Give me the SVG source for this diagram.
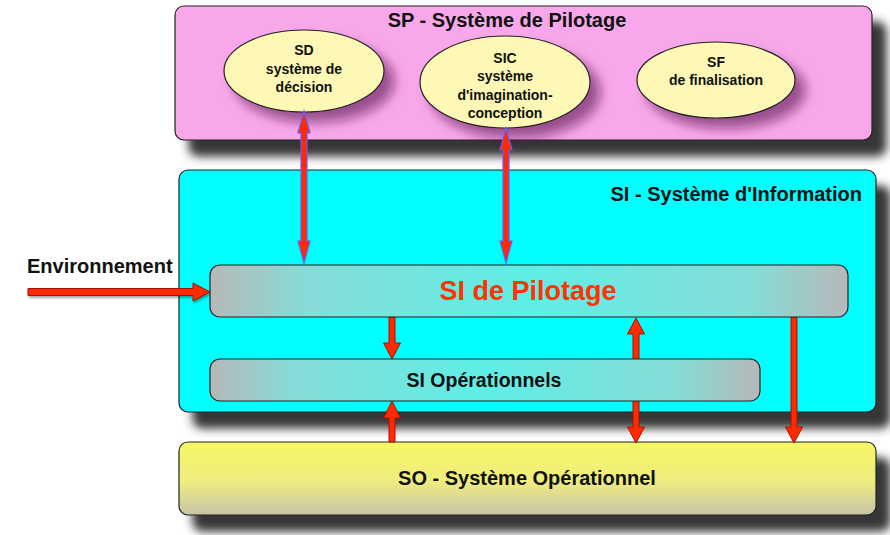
<svg xmlns="http://www.w3.org/2000/svg" width="890" height="535" viewBox="0 0 890 535">
<defs>
  <filter id="shadow" x="-10%" y="-15%" width="130%" height="150%">
    <feDropShadow dx="14" dy="16" stdDeviation="5" flood-color="#2a2a2a" flood-opacity="0.95"/>
  </filter>
  <filter id="eshadow" x="-20%" y="-20%" width="150%" height="160%">
    <feDropShadow dx="10" dy="10" stdDeviation="6" flood-color="#5a1050" flood-opacity="0.6"/>
  </filter>
  <filter id="ashadow" x="-10%" y="-50%" width="120%" height="200%">
    <feDropShadow dx="1" dy="2" stdDeviation="1" flood-color="#000" flood-opacity="0.35"/>
  </filter>
  <linearGradient id="gInner" x1="0" y1="0" x2="1" y2="0">
    <stop offset="0" stop-color="#b6b8b8"/>
    <stop offset="0.15" stop-color="#86dcd6"/>
    <stop offset="0.5" stop-color="#5eeee6"/>
    <stop offset="0.85" stop-color="#86dcd6"/>
    <stop offset="1" stop-color="#b6b8b8"/>
  </linearGradient>
  <linearGradient id="gSO" x1="0" y1="0" x2="0" y2="1">
    <stop offset="0" stop-color="#f6f864"/>
    <stop offset="0.55" stop-color="#eeec80"/>
    <stop offset="1" stop-color="#c6c2aa"/>
  </linearGradient>
  <style>
    .big { stroke: #222; stroke-width: 1.2; filter: url(#shadow); }
    .ell { fill: #fdf8b6; stroke: #222; stroke-width: 1.2; filter: url(#eshadow); }
    .inner { fill: url(#gInner); stroke: #222; stroke-width: 1.2; }
    .t { font-family: "Liberation Sans", Arial, sans-serif; font-weight: bold; fill: #111; }
    .et { font-family: "Liberation Sans", Arial, sans-serif; font-weight: bold; fill: #111; font-size: 14px; text-anchor: middle; }
    .arr { fill: #ff2a00; stroke: #a81000; stroke-width: 1; stroke-linejoin: miter; }
    .arrb { fill: #ff2a00; stroke: #6a5cff; stroke-width: 1.2; stroke-linejoin: miter; }
  </style>
</defs>

<g id="SP">
  <rect class="big" x="175" y="6" width="697" height="134" rx="9" fill="#f8a8ea"/>
  <text class="t" x="507" y="27" font-size="20" text-anchor="middle">SP - Système de Pilotage</text>
</g>
<g id="SI">
  <rect class="big" x="179" y="170" width="697" height="242" rx="9" fill="#00ffff"/>
  <text class="t" x="862" y="201" font-size="20" text-anchor="end">SI - Système d'Information</text>
</g>
<g id="SO">
  <rect class="big" x="179" y="442" width="697" height="73" rx="9" fill="url(#gSO)"/>
  <text class="t" x="527" y="485" font-size="20" text-anchor="middle">SO - Système Opérationnel</text>
</g>

<g id="SD">
  <ellipse class="ell" cx="304" cy="71" rx="80" ry="41"/>
  <text class="et" x="304" y="55">SD</text>
  <text class="et" x="304" y="74">système de</text>
  <text class="et" x="304" y="92">décision</text>
</g>
<g id="SIC">
  <ellipse class="ell" cx="505" cy="82" rx="85" ry="46"/>
  <text class="et" x="505" y="63">SIC</text>
  <text class="et" x="505" y="81">système</text>
  <text class="et" x="505" y="100">d'imagination-</text>
  <text class="et" x="505" y="118">conception</text>
</g>
<g id="SF">
  <ellipse class="ell" cx="716" cy="80" rx="79" ry="38"/>
  <text class="et" x="716" y="67">SF</text>
  <text class="et" x="716" y="85">de finalisation</text>
</g>

<g id="Environnement">
  <text class="t" x="27" y="273" font-size="20">Environnement</text>
</g>

<g id="connectors">
  <path class="arrb" d="M304,111 L310,133 L307,133 L307,241 L310,241 L304,263 L298,241 L301,241 L301,133 L298,133 Z"/>
  <path class="arrb" d="M506,128 L512,150 L509,150 L509,241 L512,241 L506,263 L500,241 L503,241 L503,150 L500,150 Z"/>
  <path class="arr" filter="url(#ashadow)" d="M28,288.5 L193,288.5 L193,283 L210,292 L193,301 L193,295.5 L28,295.5 Z"/>
  <path class="arr" d="M389,317 L395,317 L395,343 L400.5,343 L392,359 L383.5,343 L389,343 Z"/>
  <path class="arr" d="M636,318 L644.5,334 L639,334 L639,427 L644.5,427 L636,443 L627.5,427 L633,427 L633,334 L627.5,334 Z"/>
  <path class="arr" d="M791,317 L797,317 L797,427 L802.5,427 L794,443 L785.5,427 L791,427 Z"/>
  <path class="arr" d="M392,401 L400.5,418 L395,418 L395,442 L389,442 L389,418 L383.5,418 Z"/>
</g>

<g id="SI_Pilotage">
  <rect class="inner" x="210" y="265" width="638" height="52" rx="10"/>
  <text class="t" x="528" y="300" font-size="27" text-anchor="middle" style="fill:#ff3300">SI de Pilotage</text>
</g>
<g id="SI_Operationnels">
  <rect class="inner" x="210" y="359" width="550" height="42" rx="10"/>
  <text class="t" x="484" y="387" font-size="19.5" text-anchor="middle">SI Opérationnels</text>
</g>
</svg>
